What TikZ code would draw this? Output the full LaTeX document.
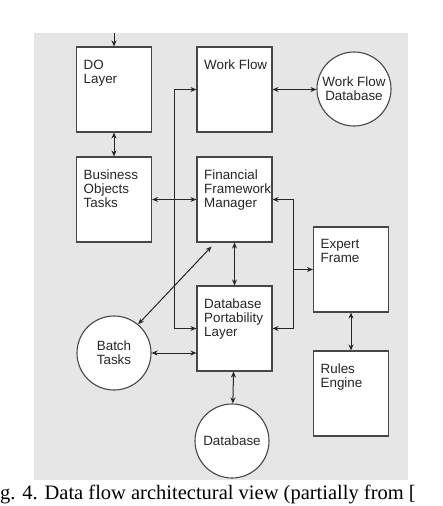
\documentclass[tikz,border=0pt]{standalone}
\usepackage{fontspec}
\setmainfont{Liberation Serif}
\setsansfont{Liberation Sans}
\usepackage{xcolor}
\usetikzlibrary{positioning, calc, arrows.meta}

\definecolor{panel}{HTML}{E6E6E6}
\definecolor{edge}{HTML}{474747}
\tikzset{
  box/.style={rectangle, draw=edge, fill=white, line width=1.1pt, minimum width=75pt, minimum height=85pt, inner sep=0pt},
  store/.style={circle, draw=edge, fill=white, line width=1.1pt, minimum size=74pt, inner sep=0pt, align=center, font=\sffamily\fontsize{13.4}{14}\selectfont, text=black!85},
  boxtext/.style={anchor=north west, align=left, inner xsep=7.5pt, inner ysep=13pt, font=\sffamily\fontsize{13.4}{14}\selectfont, text=black!85},
  flow/.style={draw=black!85, line width=1pt, >={Stealth[length=6pt,width=5pt]}}
}

\begin{document}
\begin{tikzpicture}[x=1pt,y=-1pt]
    \useasboundingbox (0,0) rectangle (442,506);
    \fill[panel] (34,33) rectangle (408,480);

    % boxes
    \node[box, label={[boxtext]north west:DO\\Layer}] (dolayer) at (114,89.5) {};
    \node[box, label={[boxtext]north west:Work Flow}] (workflow) at (234.5,89.5) {};
    \node[box, label={[boxtext]north west:Business\\Objects\\Tasks}] (bot) at (114,199.5) {};
    \node[box, label={[boxtext]north west:Financial\\Framework\\Manager}] (ffm) at (234.5,199.5) {};
    \node[box, label={[boxtext]north west:Expert\\Frame}] (expert) at (351,269.5) {};
    \node[box, label={[boxtext]north west:Database\\Portability\\Layer}] (dpl) at (234.5,328.5) {};
    \node[box, label={[boxtext]north west:Rules\\Engine}] (rules) at (351,393.5) {};

    % stores
    \node[store] (wfdb) at (354,89) {Work Flow\\Database};
    \node[store] (batch) at (114,353) {Batch\\Tasks};
    \node[store] (db) at (232,441) {Database};

    % connectors
    \coordinate (entry) at (114,33);
    \coordinate (busR) at (293,0);
    \draw[flow,->] (entry) -- (dolayer);
    \draw[flow,<->] (dolayer) -- (bot);
    \draw[flow,<->] (workflow.east) -- (workflow.east -| wfdb.west);
    \draw[flow,<->] (bot) -- (ffm);
    \draw[flow,<->] (workflow.west) -- ++(-22,0) |- (dpl.west);
    \draw[flow,<->] (ffm) -- (dpl);
    \draw[flow,<->] (ffm.east) -| (busR |- dpl.east) -- (dpl.east);
    \draw[flow,->] (expert.west -| busR) -- (expert.west);
    \draw[flow,<->] ([xshift=15pt,yshift=-4pt]ffm.south west) -- (batch.50);
    \draw[flow,<->] (batch.east) -- (batch.east -| dpl.west);
    \draw[flow,<->] (dpl) -- (db);
    \draw[flow,<->] (expert) -- (rules);

    % caption
    \node[anchor=base west, inner sep=0pt, font=\fontsize{20.5}{22}\selectfont] (caption) at (0,499) {g. 4. Data flow architectural view (partially from [};
\end{tikzpicture}
\end{document}
